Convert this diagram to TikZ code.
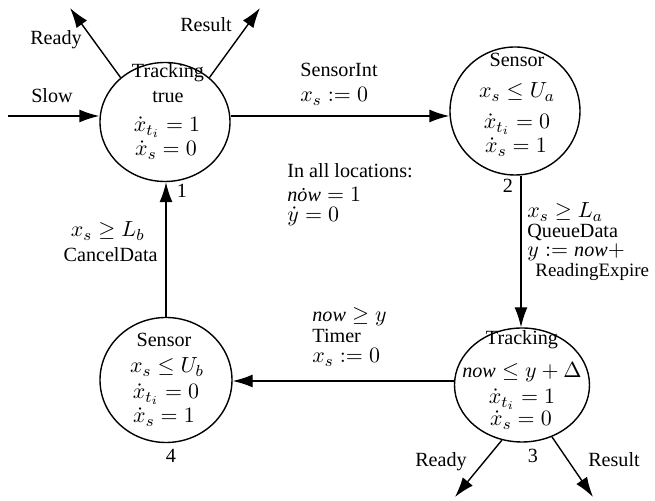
\documentclass[tikz,border=0pt,11pt]{standalone}
\usepackage{fontspec}
\setmainfont{Liberation Serif}[Scale=0.92]
\usetikzlibrary{arrows.meta,shapes.geometric}
\begin{document}
\begin{tikzpicture}[x=0.5pt,y=-0.5pt,
  loc/.style={draw,ellipse,line width=0.7pt,inner sep=0pt},
  lbl/.style={inner sep=0pt,anchor=base},
  lbll/.style={inner sep=0pt,anchor=base west},
  lblr/.style={inner sep=0pt,anchor=base east},
  edge/.style={line width=0.7pt,-{Latex[length=10pt,width=6.5pt]}}
]
\path[use as bounding box] (0,0) rectangle (655,501);

% locations
\node[loc,minimum width=65pt,minimum height=59.5pt] (l1) at (165,122) {};
\node[loc,minimum width=65pt,minimum height=64pt] (l2) at (515,111) {};
\node[loc,minimum width=67.5pt,minimum height=57pt] (l3) at (522,385) {};
\node[loc,minimum width=66pt,minimum height=62.5pt] (l4) at (166,380) {};

% location 1 texts
\node[lbl] (l1a) at (168,78) {Tracking};
\node[lbl] (l1b) at (168,103) {true};
\node[lbl] (l1c) at (167,132) {$\dot{x}_{t_i} = 1$};
\node[lbl] (l1d) at (166,156) {$\dot{x}_s = 0$};
\node[lbl] (n1) at (182,198) {1};

% location 2 texts
\node[lbl] (l2a) at (517,67) {Sensor};
\node[lbl] (l2b) at (517,98) {$x_s \leq U_a$};
\node[lbl] (l2c) at (517,129) {$\dot{x}_{t_i} = 0$};
\node[lbl] (l2d) at (516,153) {$\dot{x}_s = 1$};
\node[lbl] (n2) at (508,193) {2};

% location 3 texts
\node[lbl] (l3a) at (522,345) {Tracking};
\node[lbl] (l3b) at (522,378) {$\textit{now} \leq y + \Delta$};
\node[lbl] (l3c) at (522,404) {$\dot{x}_{t_i} = 1$};
\node[lbl] (l3d) at (521,426) {$\dot{x}_s = 0$};
\node[lbl] (n3) at (533,463) {3};

% location 4 texts
\node[lbl] (l4a) at (164,347) {Sensor};
\node[lbl] (l4b) at (167,373) {$x_s \leq U_b$};
\node[lbl] (l4c) at (166,399) {$\dot{x}_{t_i} = 0$};
\node[lbl] (l4d) at (164,423) {$\dot{x}_s = 1$};
\node[lbl] (n4) at (171,463) {4};

% free ends and guide coordinates
\coordinate (slow) at (8,116);
\coordinate (rdy1) at (70,8);
\coordinate (res1) at (260,8);
\coordinate (rdy3) at (455,497);
\coordinate (res3) at (593,497);
\coordinate (h12) at (0,116);
\coordinate (h34) at (0,381);
\coordinate (v23) at (521,0);
\coordinate (v41) at (166,0);

% connectors
\draw[edge] (slow) -- (l1.west |- h12);
\draw[edge] (l1.135) -- (rdy1);
\draw[edge] (l1.45) -- (res1);
\draw[edge] (l1.east |- h12) -- (l2.west |- h12);
\draw[edge] (l2.south -| v23) -- (l3.north -| v23);
\draw[edge] (l3.west |- h34) -- (l4.east |- h34);
\draw[edge] (l4.north -| v41) -- (l1.south -| v41);
\draw[edge] (l3.250) -- (rdy3);
\draw[edge] (l3.300) -- (res3);

% connector labels
\node[lbl] (tslow) at (52,103) {Slow};
\node[lbl] (trdy1) at (56,45) {Ready};
\node[lbl] (tres1) at (206,32) {Result};
\node[lbl] (trdy3) at (441,467) {Ready};
\node[lbl] (tres3) at (614,467) {Result};

\node[lbll] (e12a) at (300,77) {SensorInt};
\node[lbll] (e12b) at (300,102) {$x_s := 0$};

\node[lbll] (e23a) at (527,218) {$x_s \geq L_a$};
\node[lbll] (e23b) at (527,238) {QueueData};
\node[lbll] (e23c) at (527,257) {$y := \textit{now}{+}$};
\node[lbll,font=\fontsize{10.3}{12}\selectfont] (e23d) at (535,277) {ReadingExpire};

\node[lbll] (e34a) at (312,322) {$\textit{now} \geq y$};
\node[lbll] (e34b) at (312,343) {Timer};
\node[lbll] (e34c) at (312,363) {$x_s := 0$};

\node[lblr] (e41a) at (145,237) {$x_s \geq L_b$};
\node[lblr] (e41b) at (158,262) {CancelData};

% global note
\node[lbll] (g1) at (287,178) {In all locations:};
\node[lbll] (g2) at (287,202) {$\textit{n\.{o}w} = 1$};
\node[lbll] (g3) at (287,222) {$\dot{y} = 0$};
\end{tikzpicture}
\end{document}
